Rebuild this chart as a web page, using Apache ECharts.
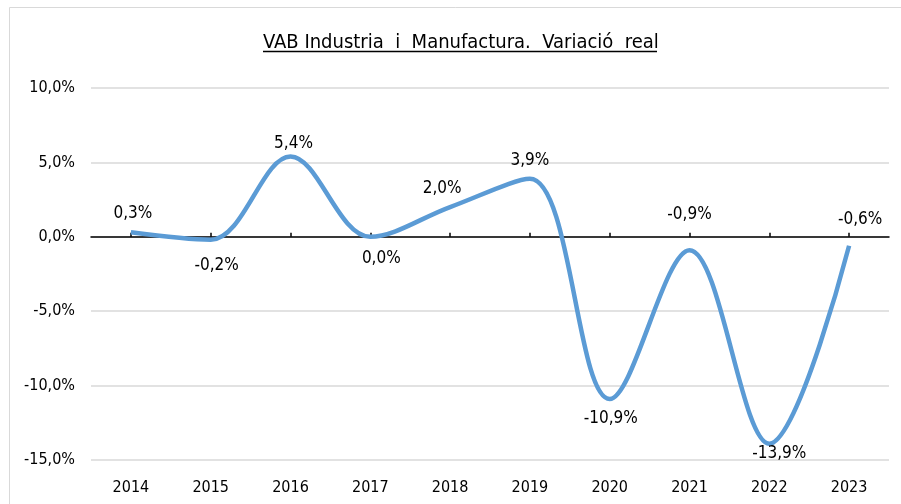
<!DOCTYPE html>
<html lang="ca">
<head>
    <meta charset="UTF-8">
    <title>VAB Industria i Manufactura</title>
    <script src="https://cdn.jsdelivr.net/npm/echarts@6/dist/echarts.min.js"></script>
    <style>
        html, body { margin: 0; padding: 0; background: #fff; }
    </style>
</head>
<body>
    <div id="main" style="width: 901px;height:504px;"></div>
    <script type="text/javascript">
        // dades
        var years = ['2014', '2015', '2016', '2017', '2018', '2019', '2020', '2021', '2022', '2023'];
        var variacio = [0.3, -0.2, 5.4, 0.0, 2.0, 3.9, -10.9, -0.9, -13.9, -0.6];
        var yTicks = [-15, -10, -5, 0, 5, 10];

        // desplaçament de cada etiqueta respecte al punt (px)
        var labelOffsets = [[2, -19], [6, 26], [3, -13], [11, 22], [-8, -18], [0, -18], [1, 20], [0, -36], [10, 10], [11, -26]];

        var font = "'Liberation Sans Narrow', 'Arial Narrow', 'DejaVu Sans Condensed', sans-serif";

        var myChart = echarts.init(document.getElementById('main'));

        var seriesData = variacio.map(function (v, i) {
            return {
                value: v,
                label: { offset: labelOffsets[i] }
            };
        });

        var option = {
            backgroundColor: '#fff',
            animation: false,
            title: {
                text: 'VAB Industria  i  Manufactura.  Variació  real',
                left: 258,
                top: 28,
                textStyle: {
                    fontFamily: font,
                    fontSize: 20,
                    fontWeight: 'normal',
                    color: '#000'
                }
            },
            graphic: [
                {
                    type: 'rect',
                    shape: { x: 9.5, y: 7.5, width: 900, height: 505 },
                    style: { fill: 'none', stroke: '#d9d9d9', lineWidth: 1 },
                    silent: true
                },
                {
                    type: 'line',
                    shape: { x1: 263, y1: 51.5, x2: 657, y2: 51.5 },
                    style: { stroke: '#000', lineWidth: 1.5 },
                    silent: true
                }
            ],
            grid: {
                left: 91,
                right: 12,
                top: 88,
                bottom: 44
            },
            xAxis: [
                {
                    type: 'category',
                    data: years,
                    position: 'bottom',
                    axisLine: { show: false, onZero: false },
                    axisTick: { show: false },
                    axisLabel: {
                        margin: 20,
                        fontFamily: font,
                        fontSize: 16,
                        color: '#000'
                    },
                    splitLine: { show: false }
                },
                {
                    type: 'category',
                    data: years,
                    position: 'bottom',
                    axisLine: { show: true, onZero: true, lineStyle: { color: '#000', width: 1.5 } },
                    axisTick: { show: true, alignWithLabel: true, length: 4, inside: true, lineStyle: { color: '#000', width: 1.5 } },
                    axisLabel: { show: false },
                    splitLine: { show: false }
                }
            ],
            yAxis: {
                type: 'value',
                min: yTicks[0],
                max: yTicks[yTicks.length - 1],
                interval: 5,
                axisLine: { show: false },
                axisTick: { show: false },
                axisLabel: {
                    margin: 16,
                    fontFamily: font,
                    fontSize: 16,
                    color: '#000',
                    formatter: function (v) {
                        return v.toFixed(1).replace('.', ',') + '%';
                    }
                },
                splitLine: { lineStyle: { color: '#d9d9d9', width: 1.5 } }
            },
            series: [
                {
                    name: 'Variació real',
                    type: 'line',
                    xAxisIndex: 0,
                    data: seriesData,
                    smooth: 0.35,
                    symbol: 'circle',
                    symbolSize: 1,
                    showSymbol: true,
                    itemStyle: { color: 'rgba(0,0,0,0)' },
                    lineStyle: { color: '#5b9bd5', width: 4.5 },
                    label: {
                        show: true,
                        position: 'inside',
                        fontFamily: font,
                        fontSize: 17,
                        color: '#000',
                        formatter: function (p) {
                            return p.value.toFixed(1).replace('.', ',') + '%';
                        }
                    }
                }
            ]
        };

        myChart.setOption(option);
    </script>
</body>
</html>
